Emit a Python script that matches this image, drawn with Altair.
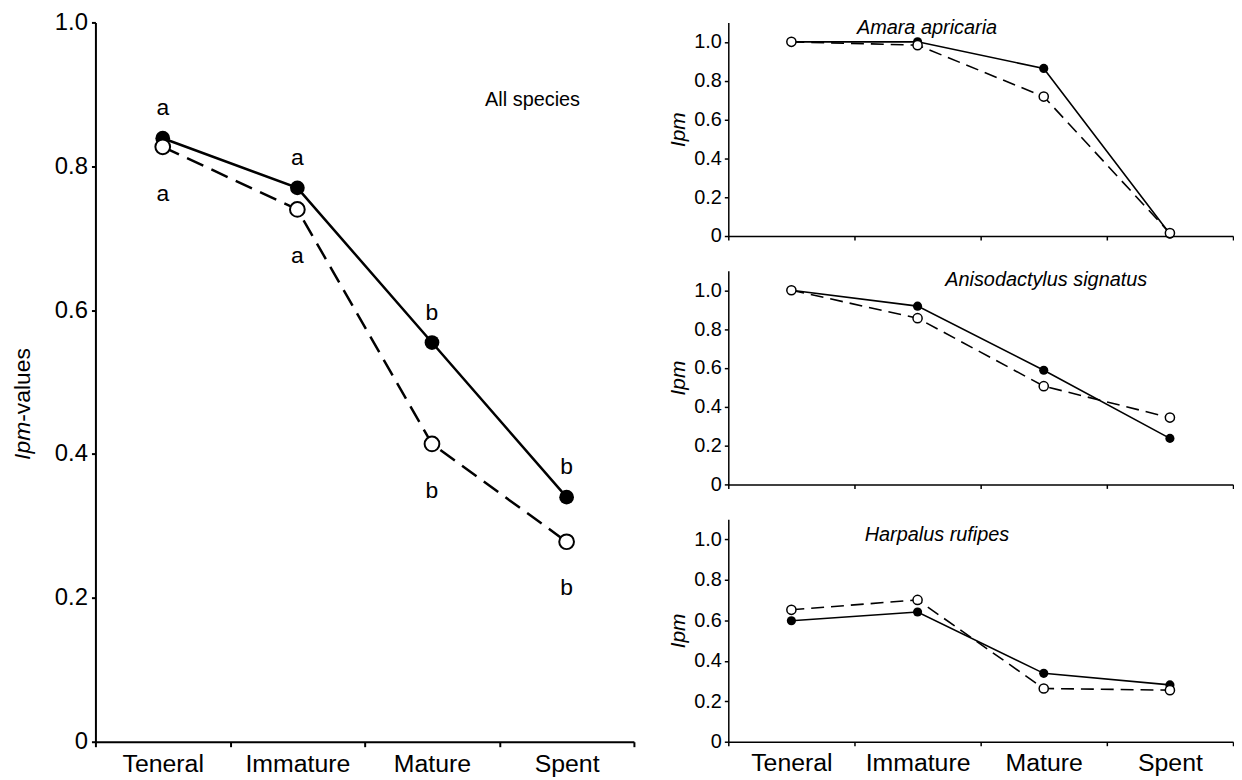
import altair as alt
import pandas as pd

FONT = "Liberation Sans"

stages = ["Teneral", "Immature", "Mature", "Spent"]

# All species (large panel)
all_filled = [0.839, 0.770, 0.555, 0.340]
all_open = [0.827, 0.740, 0.414, 0.278]
letters_filled = ["a", "a", "b", "b"]
letters_open = ["a", "a", "b", "b"]

# Species panels
amara_filled = [1.0, 1.0, 0.863, 0.010]
amara_open = [1.0, 0.983, 0.718, 0.015]
aniso_filled = [1.0, 0.918, 0.588, 0.237]
aniso_open = [1.0, 0.856, 0.506, 0.344]
harp_filled = [0.598, 0.641, 0.338, 0.281]
harp_open = [0.652, 0.701, 0.263, 0.255]

y_ticks = [0, 0.2, 0.4, 0.6, 0.8, 1.0]
label_expr = "datum.value == 0 ? '0' : format(datum.value, '.1f')"


def frame(filled, opened, lf=None, lo=None):
    rows = []
    for i, s in enumerate(stages):
        rows.append({"stage": s, "value": filled[i], "series": "filled",
                     "letter": lf[i] if lf else ""})
        rows.append({"stage": s, "value": opened[i], "series": "open",
                     "letter": lo[i] if lo else ""})
    return pd.DataFrame(rows)


def x_enc(show_labels, tick_w, dom_w, tsize):
    return alt.X(
        "stage:N", sort=stages,
        scale=alt.Scale(type="band", paddingInner=0, paddingOuter=0),
        axis=alt.Axis(title=None, tickBand="extent", labels=show_labels,
                      labelFont=FONT, labelFontSize=25, labelColor="black",
                      labelAngle=0, labelPadding=5, tickSize=tsize,
                      tickColor="black", tickWidth=tick_w, domainColor="black",
                      domainWidth=dom_w, grid=False),
    )


def panel_layers(df, lw, dash, psize, pstroke, xe, ye):
    base = alt.Chart(df).encode(x=xe, y=ye)
    solid = base.transform_filter("datum.series == 'filled'").mark_line(
        color="black", strokeWidth=lw)
    dashed = base.transform_filter("datum.series == 'open'").mark_line(
        color="black", strokeWidth=lw, strokeDash=dash)
    pf = base.transform_filter("datum.series == 'filled'").mark_point(
        shape="circle", filled=True, color="black", size=psize, opacity=1)
    po = base.transform_filter("datum.series == 'open'").mark_point(
        shape="circle", filled=True, fill="white", stroke="black",
        strokeWidth=pstroke, size=psize, opacity=1)
    return [solid, dashed, pf, po]


# ---- Left, large panel ----
df_all = frame(all_filled, all_open, letters_filled, letters_open)
ye_left = alt.Y(
    "value:Q", scale=alt.Scale(domain=[0, 1.0], nice=False, zero=True),
    axis=alt.Axis(title=None, values=y_ticks, labelExpr=label_expr,
                  labelFont=FONT, labelFontSize=24, labelColor="black",
                  labelPadding=4, tickSize=4, tickColor="black", tickWidth=2,
                  domainColor="black", domainWidth=2, grid=False),
)
xe_left = x_enc(True, 2, 2, 5)
left_layers = panel_layers(df_all, 2.5, [18, 9], 220, 2, xe_left, ye_left)

base_all = alt.Chart(df_all).encode(x=xe_left, y=ye_left, text="letter:N")
let_top = base_all.transform_filter("datum.series == 'filled'").mark_text(
    font=FONT, fontSize=23, color="black", dy=-30, baseline="middle")
let_bot = base_all.transform_filter("datum.series == 'open'").mark_text(
    font=FONT, fontSize=23, color="black", dy=47, baseline="middle")

all_title = alt.Chart(pd.DataFrame({"t": ["All species"]})).mark_text(
    font=FONT, fontSize=20, color="black", align="center", baseline="middle"
).encode(text="t:N", x=alt.value(440), y=alt.value(78))

ytitle_a = alt.Chart(pd.DataFrame({"t": ["Ipm"]})).mark_text(
    font=FONT, fontSize=23, fontStyle="italic", color="black", angle=270,
    align="right", baseline="middle"
).encode(text="t:N", x=alt.value(-73), y=alt.value(402))
ytitle_b = alt.Chart(pd.DataFrame({"t": ["-values"]})).mark_text(
    font=FONT, fontSize=23, color="black", angle=270,
    align="left", baseline="middle"
).encode(text="t:N", x=alt.value(-73), y=alt.value(402))

left = alt.layer(*left_layers, let_top, let_bot, all_title, ytitle_a, ytitle_b
                 ).properties(width=542, height=724)


# ---- Right panels ----
def species_panel(filled, opened, name, tx, ty, height, show_labels):
    df = frame(filled, opened)
    ye = alt.Y(
        "value:Q", scale=alt.Scale(domain=[0, 1.1], nice=False, zero=True),
        axis=alt.Axis(title="Ipm", titleFont=FONT, titleFontSize=21,
                      titleFontStyle="italic", titleFontWeight="normal",
                      titleColor="black", titlePadding=5,
                      values=y_ticks, labelExpr=label_expr, labelFont=FONT,
                      labelFontSize=20, labelColor="black", labelPadding=3,
                      tickSize=4, tickColor="black", tickWidth=1.5,
                      domainColor="black", domainWidth=1.5, grid=False),
    )
    xe = x_enc(show_labels, 1.5, 1.5, 4)
    layers = panel_layers(df, 1.6, [13, 7], 85, 1.5, xe, ye)
    title = alt.Chart(pd.DataFrame({"t": [name]})).mark_text(
        font=FONT, fontSize=20, fontStyle="italic", color="black",
        align="center", baseline="middle"
    ).encode(text="t:N", x=alt.value(tx), y=alt.value(ty))
    return alt.layer(*layers, title).properties(width=508, height=height)


p1 = species_panel(amara_filled, amara_open, "Amara apricaria", 200, 6, 215, False)
p2 = species_panel(aniso_filled, aniso_open, "Anisodactylus signatus", 320, 9, 215, False)
p3 = species_panel(harp_filled, harp_open, "Harpalus rufipes", 210, 16, 224, True)

right = alt.vconcat(p1, p2, p3, spacing=35, bounds="flush")

chart = alt.hconcat(left, right, spacing=95, bounds="flush").properties(
    padding={"left": 4, "top": 0, "right": 0, "bottom": 0},
    background="white",
).configure_view(stroke=None)

chart.save("out.html", embed_options={"renderer": "svg", "actions": False})
